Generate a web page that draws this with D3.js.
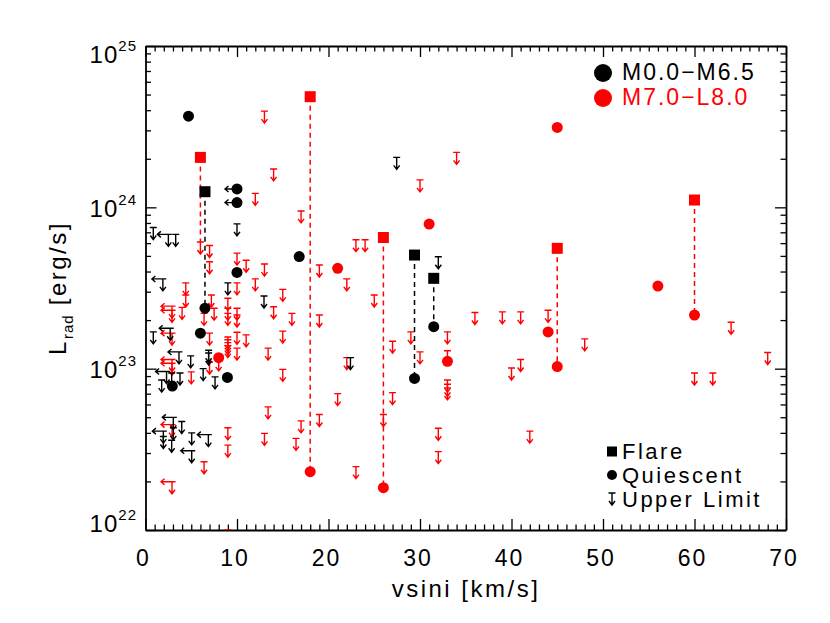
<!DOCTYPE html>
<html>
<head>
<meta charset="utf-8">
<script src="https://cdn.jsdelivr.net/npm/d3@7"></script>
<style>
    body { margin: 0; background: #fff; }
    text { font-family: "Liberation Sans", Arial, sans-serif; }
</style>
</head>
<body>
<svg id="chart" width="830" height="623"></svg>
<script>
// flares: vsini, L flare, L quiescent (dashed line between both)
const blackFlares = [
    [6.5, 1.25e24, 2.37e23],
    [29.4, 5.06e23, 8.7e22],
    [31.5, 3.63e23, 1.82e23]
];
const redFlares = [
    [6, 2.04e24, 6.1e23],
    [18, 4.85e24, 2.3e22],
    [26, 6.5e23, 1.83e22],
    [45, 5.57e23, 1.03e23],
    [60, 1.11e24, 2.15e23]
];

// quiescent detections: vsini, L, vsini upper limit (1 = yes)
const blackQuiescent = [
    [4.7, 3.67e24, 0], [10, 1.30e24, 1], [10, 1.07e24, 1], [16.8, 4.95e23, 0],
    [10, 3.95e23, 0], [6.5, 2.37e23, 0], [6, 1.66e23, 0], [2.93, 7.8e22, 0],
    [8.95, 8.83e22, 0], [29.4, 8.7e22, 0], [31.5, 1.82e23, 0]
];
const redQuiescent = [
    [31, 7.87e23, 0], [21, 4.19e23, 0], [8, 1.17e23, 0], [33, 1.11e23, 0],
    [44, 1.69e23, 0], [45, 3.13e24, 0], [56, 3.25e23, 0], [18, 2.3e22, 0],
    [26, 1.83e22, 0], [45, 1.03e23, 0], [60, 2.15e23, 0]
];

// upper limits: vsini, L, vsini upper limit (1 = yes)
const blackLimits = [
    [27.45, 2.04e24, 0], [32, 4.94e23, 0], [22.4, 1.17e23, 0], [10, 7.9e23, 0],
    [0.85, 7.5e23, 0], [2.5, 6.8e23, 1], [3.3, 6.8e23, 0], [1.9, 3.6e23, 1],
    [9, 3.4e23, 0], [12.95, 2.82e23, 0], [0.85, 1.69e23, 0], [2.7, 1.78e23, 1],
    [3.66, 1.27e23, 1], [4.94, 1.2e23, 0], [6.9, 1.3e23, 0], [6.9, 1.25e23, 0],
    [2.3, 9.6e22, 1], [1.77, 8.5e22, 0], [2.86, 9.4e22, 0], [3.77, 9.4e22, 0],
    [6.3, 1.0e23, 0], [7.6, 8.9e22, 0], [3.04, 4.99e22, 1], [3.96, 4.7e22, 0],
    [1.95, 4.1e22, 1], [3.04, 4.3e22, 0], [5.05, 4.0e22, 0], [6.87, 3.9e22, 1],
    [1.95, 3.8e22, 0], [2.86, 3.6e22, 0], [5.05, 3.1e22, 1]
];
const redLimits = [
    [13, 3.95e24, 0], [14, 1.73e24, 0], [12, 1.22e24, 0], [17, 9.5e23, 0],
    [6, 6.1e23, 0], [7, 5.8e23, 0], [7, 4.6e23, 0], [10, 5.2e23, 0],
    [11, 4.7e23, 0], [13, 4.45e23, 0], [4.4, 3.4e23, 0], [10, 3.4e23, 0],
    [12, 3.6e23, 0], [15, 3.1e23, 0], [4.4, 2.86e23, 0], [2.9, 2.44e23, 1],
    [2.9, 2.3e23, 1], [4, 2.4e23, 0], [7.2, 2.86e23, 0], [7.5, 2.37e23, 0],
    [9, 2.73e23, 0], [9, 2.37e23, 0], [10, 2.37e23, 0], [10, 2.15e23, 0],
    [6.4, 2.2e23, 0], [9, 2.2e23, 0], [14, 2.42e23, 0], [16, 2.2e23, 0],
    [2.9, 1.66e23, 1], [7, 1.66e23, 0], [9, 1.57e23, 0], [9, 1.51e23, 0],
    [9, 1.45e23, 0], [9, 1.39e23, 0], [10, 1.68e23, 0], [11, 1.62e23, 0],
    [15, 1.71e23, 0], [8, 1.15e23, 0], [10, 1.34e23, 0], [13.4, 1.34e23, 0],
    [2.9, 1.14e23, 1], [2.9, 1.08e23, 1], [5, 9.55e22, 0], [7, 1.1e23, 0],
    [15, 9.9e22, 0], [13.4, 5.8e22, 0], [17, 4.75e22, 0], [2.9, 4.5e22, 1],
    [9, 4.3e22, 0], [9, 3.36e22, 0], [13, 3.97e22, 0], [16.45, 3.7e22, 0],
    [6.4, 2.65e22, 0], [2.9, 1.99e22, 1], [9, 1.0e22, 0],
    [34, 2.19e24, 0], [30, 1.48e24, 0], [23, 6.3e23, 0], [24, 6.3e23, 0],
    [19, 4.39e23, 0], [22, 3.6e23, 0], [25, 2.86e23, 0], [19, 2.15e23, 0],
    [29, 1.69e23, 0], [27, 1.48e23, 0], [33, 1.69e23, 0], [30, 1.27e23, 0],
    [33, 1.29e23, 0], [33, 8.5e22, 0], [33, 8.0e22, 0], [33, 7.6e22, 0],
    [22, 1.17e23, 0], [21, 7.0e22, 0], [27, 7.1e22, 0], [19, 5.2e22, 0],
    [26, 5.2e22, 0], [23, 2.47e22, 0], [32, 4.27e22, 0], [32, 3.06e22, 0],
    [36, 2.23e23, 0], [39, 2.25e23, 0], [41, 2.25e23, 0], [44, 2.3e23, 0],
    [48, 1.53e23, 0], [41, 1.14e23, 0], [40, 1.01e23, 0], [42, 4.1e22, 0],
    [64, 1.94e23, 0], [68, 1.26e23, 0], [60, 9.4e22, 0], [62, 9.4e22, 0]
];

const xMajor = d3.range(0, 71, 10);
const xMinor = d3.range(0, 71, 1).filter(v => v % 10 !== 0);
const yMajor = [1e22, 1e23, 1e24, 1e25];
const yExp = ["22", "23", "24", "25"];
const yMinor = [];
[1e22, 1e23, 1e24].forEach(d => d3.range(2, 10).forEach(k => yMinor.push(k * d)));

const group = [
    { name: "M0.0\u2212M6.5", color: "#000000" },
    { name: "M7.0\u2212L8.0", color: "#ff0000" }
];
const symbolNames = ["Flare", "Quiescent", "Upper Limit"];

const pLeft = 145.5, pRight = 786, pTop = 46, pBottom = 530;
const svg = d3.select("#chart");

const x = d3.scaleLinear().domain([0, 70]).range([pLeft, pRight]);
const y = d3.scaleLog().domain([1e22, 1e25]).range([pBottom, pTop]);

svg.append("defs").append("clipPath").attr("id", "plotclip")
    .append("rect").attr("x", pLeft).attr("y", pTop)
    .attr("width", pRight - pLeft).attr("height", pBottom - pTop);

// Achsen (Ticks nach innen, alle vier Seiten)
function styleAxis(g, keepDomain) {
    g.selectAll(".tick line").attr("stroke", "#000").attr("stroke-width", 1.3);
    g.selectAll(".tick text").remove();
    if (keepDomain) g.select(".domain").attr("stroke", "#000").attr("stroke-width", 1.8);
    else g.select(".domain").remove();
}
const axes = [
    [d3.axisBottom, x, `translate(0,${pBottom})`, xMajor, xMinor],
    [d3.axisTop, x, `translate(0,${pTop})`, xMajor, xMinor],
    [d3.axisLeft, y, `translate(${pLeft},0)`, yMajor, yMinor],
    [d3.axisRight, y, `translate(${pRight},0)`, yMajor, yMinor]
];
axes.forEach(([fn, sc, tr, major, minor]) => {
    svg.append("g").attr("transform", tr)
        .call(fn(sc).tickValues(minor).tickSize(-5.5).tickSizeOuter(0))
        .call(g => styleAxis(g, false));
    svg.append("g").attr("transform", tr)
        .call(fn(sc).tickValues(major).tickSize(-11).tickSizeOuter(0))
        .call(g => styleAxis(g, true));
});

// Tick labels
svg.append("g").selectAll("text").data(xMajor).join("text")
    .attr("x", d => x(d) - 2)
    .attr("y", 566)
    .attr("text-anchor", "middle")
    .attr("font-size", 23)
    .attr("letter-spacing", 2)
    .text(d => d);

const yl = svg.append("g").selectAll("text").data(yMajor).join("text")
    .attr("x", 137)
    .attr("y", d => Math.max(63, Math.min(532, y(d) + 9.5)))
    .attr("text-anchor", "end")
    .attr("font-size", 24)
    .attr("letter-spacing", 1);
yl.append("tspan").text("10");
yl.append("tspan").attr("dy", -12).attr("font-size", 15).text((d, i) => yExp[i]);

// Achsentitel
svg.append("text")
    .attr("x", 466).attr("y", 597)
    .attr("text-anchor", "middle")
    .attr("font-size", 24)
    .attr("letter-spacing", 2.5)
    .text("vsini [km/s]");

const yt = svg.append("text")
    .attr("transform", "translate(66,288) rotate(-90)")
    .attr("text-anchor", "middle")
    .attr("font-size", 24)
    .attr("letter-spacing", 2.5);
yt.append("tspan").text("L");
yt.append("tspan").attr("dy", 7).attr("font-size", 15).attr("letter-spacing", 1).text("rad");
yt.append("tspan").attr("dy", -7).text(" [erg/s]");

// Symbole
function limitPath(px, py, leftArrow) {
    let p = `M${px - 3.5},${py}H${px + 3.5}M${px},${py}V${py + 12}` +
        `M${px - 3},${py + 8}L${px},${py + 12}L${px + 3},${py + 8}`;
    if (leftArrow) p += `M${px},${py}H${px - 11}M${px - 7.5},${py - 3}L${px - 11},${py}L${px - 7.5},${py + 3}`;
    return p;
}
function arrowPath(px, py) {
    return `M${px},${py}H${px - 12}M${px - 8.5},${py - 3}L${px - 12},${py}L${px - 8.5},${py + 3}`;
}

const plot = svg.append("g").attr("clip-path", "url(#plotclip)");

function drawGroup(flares, quiet, limits, color) {
    const g = plot.append("g");
    g.selectAll("line.pair").data(flares).join("line")
        .attr("x1", d => x(d[0])).attr("x2", d => x(d[0]))
        .attr("y1", d => y(d[1])).attr("y2", d => y(d[2]))
        .attr("stroke", color).attr("stroke-width", 1.5)
        .attr("stroke-dasharray", "5,4");
    g.selectAll("path.lim").data(limits).join("path")
        .attr("d", d => limitPath(x(d[0]), y(d[1]), d[2]))
        .attr("fill", "none").attr("stroke", color).attr("stroke-width", 1.4);
    g.selectAll("path.arr").data(quiet.filter(d => d[2])).join("path")
        .attr("d", d => arrowPath(x(d[0]), y(d[1])))
        .attr("fill", "none").attr("stroke", color).attr("stroke-width", 1.4);
    g.selectAll("circle").data(quiet).join("circle")
        .attr("cx", d => x(d[0])).attr("cy", d => y(d[1]))
        .attr("r", 5.5).attr("fill", color);
    g.selectAll("rect").data(flares).join("rect")
        .attr("x", d => x(d[0]) - 5.5).attr("y", d => y(d[1]) - 5.5)
        .attr("width", 11).attr("height", 11).attr("fill", color);
}
drawGroup(redFlares, redQuiescent, redLimits, group[1].color);
drawGroup(blackFlares, blackQuiescent, blackLimits, group[0].color);

// Legende oben rechts
const leg = svg.append("g");
group.forEach((gr, i) => {
    leg.append("circle").attr("cx", 603).attr("cy", 73 + i * 25).attr("r", 9).attr("fill", gr.color);
    leg.append("text").attr("x", 622).attr("y", 80 + i * 25)
        .attr("font-size", 23).attr("letter-spacing", 2)
        .attr("fill", gr.color).text(gr.name);
});

// Legende unten rechts
const leg2 = svg.append("g");
leg2.append("rect").attr("x", 607).attr("y", 446.5).attr("width", 10).attr("height", 10).attr("fill", "#000");
leg2.append("circle").attr("cx", 612).attr("cy", 475).attr("r", 5).attr("fill", "#000");
leg2.append("path").attr("d", limitPath(612, 493, false))
    .attr("fill", "none").attr("stroke", "#000").attr("stroke-width", 1.4);
symbolNames.forEach((s, i) => {
    leg2.append("text").attr("x", 622).attr("y", 458.5 + i * 24.2)
        .attr("font-size", 22).attr("letter-spacing", 2.5).text(s);
});
</script>
</body>
</html>
